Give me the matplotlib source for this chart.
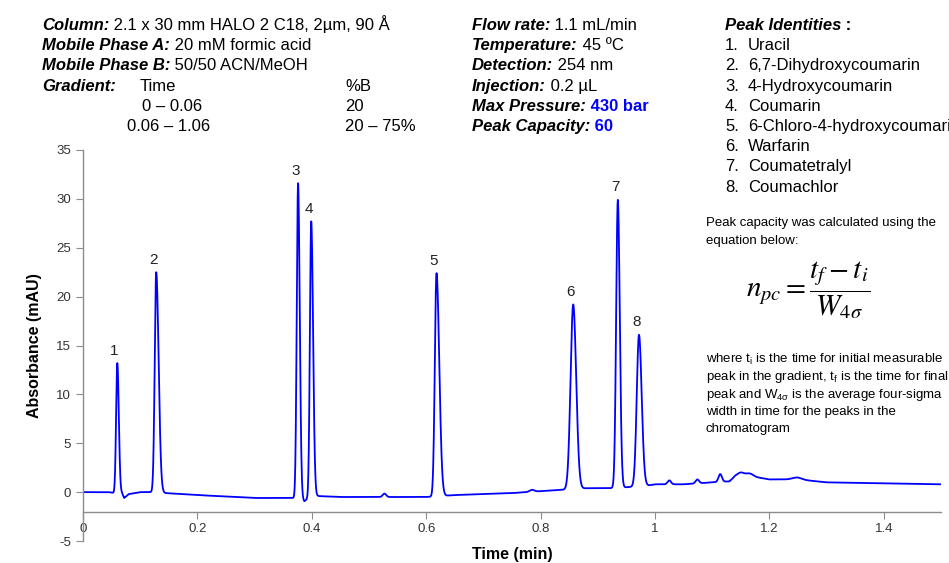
import numpy as np
import matplotlib
matplotlib.use('Agg')
import matplotlib.pyplot as plt

plt.rcParams['axes.unicode_minus'] = False

# ---------------- data ----------------
peak_labels = ['1', '2', '3', '4', '5', '6', '7', '8']
peak_times = [0.060, 0.128, 0.376, 0.399, 0.618, 0.857, 0.935, 0.972]
peak_heights = [13.2, 22.5, 31.6, 27.7, 22.4, 19.2, 29.9, 16.1]
peak_sigma_left = [0.0021, 0.0026, 0.0023, 0.0023, 0.0029, 0.0046, 0.0029, 0.0039]
peak_sigma_right = [0.0026, 0.0042, 0.0029, 0.0032, 0.0048, 0.0052, 0.0034, 0.0047]

minor_times = [0.527, 0.785, 1.025, 1.074, 1.114, 1.150, 1.165, 1.248]
minor_heights = [0.35, 0.2, 0.4, 0.4, 0.8, 0.4, 0.3, 0.2]
minor_sigma = [0.003, 0.004, 0.003, 0.003, 0.003, 0.006, 0.006, 0.008]

base_t = [0, 0.045, 0.055, 0.068, 0.072, 0.08, 0.10, 0.12, 0.145, 0.2, 0.3, 0.37,
          0.38, 0.387, 0.394, 0.41, 0.45, 0.5, 0.6, 0.65, 0.7, 0.75, 0.8, 0.84,
          0.85, 0.88, 0.92, 0.95, 0.99, 1.0, 1.05, 1.1, 1.13, 1.14, 1.17, 1.2,
          1.25, 1.3, 1.4, 1.5]
base_v = [0, 0, -0.1, -0.1, -0.6, -0.2, 0, 0, -0.1, -0.3, -0.6, -0.6,
          -0.6, -0.95, -0.6, -0.4, -0.5, -0.5, -0.5, -0.3, -0.2, -0.1, 0.1, 0.25,
          0.3, 0.4, 0.4, 0.5, 0.7, 0.8, 0.8, 1.0, 1.1, 1.6, 1.6, 1.3,
          1.3, 1.0, 0.9, 0.8]

x_ticks = [0, 0.2, 0.4, 0.6, 0.8, 1.0, 1.2, 1.4]
x_tick_labels = ['0', '0.2', '0.4', '0.6', '0.8', '1', '1.2', '1.4']
y_ticks = [-5, 0, 5, 10, 15, 20, 25, 30, 35]

compounds = ['Uracil', '6,7-Dihydroxycoumarin', '4-Hydroxycoumarin', 'Coumarin',
             '6-Chloro-4-hydroxycoumarin', 'Warfarin', 'Coumatetralyl', 'Coumachlor']

# ---------------- build trace ----------------
t = np.linspace(0, 1.5, 6001)
signal = np.interp(t, base_t, base_v)
for pt, ph, sl, sr in zip(peak_times, peak_heights, peak_sigma_left, peak_sigma_right):
    amp = ph - np.interp(pt, base_t, base_v)
    s = np.where(t < pt, sl, sr)
    signal = signal + amp * np.exp(-0.5 * ((t - pt) / s) ** 2)
for mt, mh, ms in zip(minor_times, minor_heights, minor_sigma):
    signal = signal + mh * np.exp(-0.5 * ((t - mt) / ms) ** 2)

# ---------------- figure ----------------
W, H = 949, 563
fig = plt.figure(figsize=(W / 100, H / 100), dpi=100)
FONT = 'Liberation Sans'
ax = fig.add_axes([83 / W, 1 - 541 / H, (941 - 83) / W, (541 - 150) / H])
ax.plot(t, signal, color='#0000FF', lw=1.3)
ax.set_xlim(0, 1.5)
ax.set_ylim(-5, 35)
ax.spines['top'].set_visible(False)
ax.spines['right'].set_visible(False)
ax.spines['bottom'].set_position(('data', -2))
for s in ('left', 'bottom'):
    ax.spines[s].set_color('#8c8c8c')
    ax.spines[s].set_linewidth(1.0)
ax.set_xticks(x_ticks)
ax.set_xticklabels(x_tick_labels)
ax.set_yticks(y_ticks)
ax.tick_params(axis='both', colors='#8c8c8c', labelcolor='#333333', labelsize=9.5,
               length=5, direction='out')
for lab in ax.get_xticklabels() + ax.get_yticklabels():
    lab.set_family(FONT)
ax.set_xlabel('Time (min)', fontsize=11.5, fontweight='bold', family=FONT, labelpad=8)
ax.set_ylabel('Absorbance (mAU)', fontsize=11.5, fontweight='bold', family=FONT, labelpad=10)

for lab, pt, ph in zip(peak_labels, peak_times, peak_heights):
    ax.annotate(lab, (pt, ph), xytext=(-2, 4), textcoords='offset points',
                ha='center', va='bottom', fontsize=11, family=FONT, color='#222222')

# ---------------- text blocks ----------------
renderer = fig.canvas.get_renderer()
SIZE = 12


def rich(x_px, y_px, parts, size=SIZE):
    cx = x_px
    for txt, kw in parts:
        tt = fig.text(cx / W, 1 - y_px / H, txt, fontsize=size, va='baseline', ha='left',
                      family=FONT, **kw)
        bb = tt.get_window_extent(renderer=renderer)
        cx = bb.x1


BI = dict(fontweight='bold', fontstyle='italic')
B = dict(fontweight='bold')
N = dict()
BLUE = dict(fontweight='bold', color='#0000FF')

lx = 42
rows = [30, 50, 70, 91, 111, 131]
rich(lx, rows[0], [('Column:', BI), (' 2.1 x 30 mm HALO 2 C18, 2µm, 90 Å', N)])
rich(lx, rows[1], [('Mobile Phase A:', BI), (' 20 mM formic acid', N)])
rich(lx, rows[2], [('Mobile Phase B:', BI), (' 50/50 ACN/MeOH', N)])
rich(lx, rows[3], [('Gradient:', BI)])
rich(140, rows[3], [('Time', N)])
rich(345, rows[3], [('%B', N)])
rich(142, rows[4], [('0 – 0.06', N)])
rich(345, rows[4], [('20', N)])
rich(127, rows[5], [('0.06 – 1.06', N)])
rich(345, rows[5], [('20 – 75%', N)])

mx = 472
rich(mx, rows[0], [('Flow rate:', BI), (' 1.1 mL/min', N)])
rich(mx, rows[1], [('Temperature:', BI), (' 45 ºC', N)])
rich(mx, rows[2], [('Detection:', BI), (' 254 nm', N)])
rich(mx, rows[3], [('Injection:', BI), (' 0.2 µL', N)])
rich(mx, rows[4], [('Max Pressure:', BI), (' 430 bar', BLUE)])
rich(mx, rows[5], [('Peak Capacity:', BI), (' 60', BLUE)])

px = 725
rich(px, rows[0], [('Peak Identities', BI), (' :', B)])
for i, name in enumerate(compounds):
    y = rows[0] + 20.2 * (i + 1)
    rich(725, y, [(f'{i + 1}.', N)])
    rich(748, y, [(name, N)])

small = 9.5
fig.text(706 / W, 1 - 226 / H, 'Peak capacity was calculated using the', fontsize=small,
         family=FONT, va='baseline')
fig.text(706 / W, 1 - 244 / H, 'equation below:', fontsize=small, family=FONT, va='baseline')
fig.text(808 / W, 1 - 290 / H, r'$n_{pc}=\dfrac{t_f-t_i}{W_{4\sigma}}$', fontsize=21,
         math_fontfamily='stix', ha='center', va='center')
where_lines = [r'where t$_{\mathregular{i}}$ is the time for initial measurable',
               r'peak in the gradient, t$_{\mathregular{f}}$ is the time for final',
               r'peak and W$_{\mathregular{4σ}}$ is the average four-sigma',
               'width in time for the peaks in the',
               'chromatogram']
for i, line in enumerate(where_lines):
    fig.text(706 / W, 1 - (363 + 17.3 * i) / H, line, fontsize=small, family=FONT,
             va='baseline')

fig.savefig('out.png', dpi=100)
